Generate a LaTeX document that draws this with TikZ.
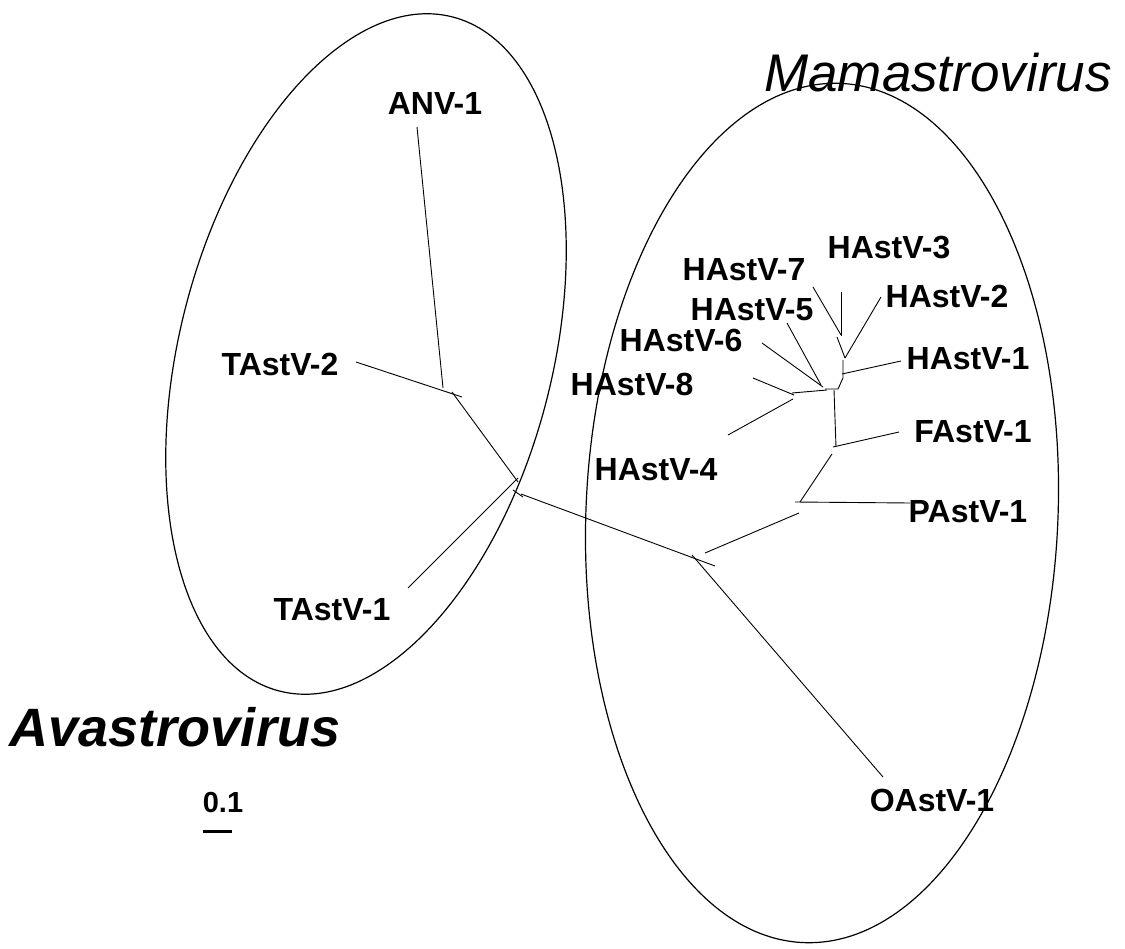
\documentclass[tikz,border=0pt]{standalone}
\usepackage{fontspec}
\setmainfont{Liberation Sans}
\begin{document}
\begin{tikzpicture}[x=1pt,y=-1pt,
  br/.style={line width=0.9pt, black},
  grp/.style={line width=1.2pt, black},
  tip/.style={font=\fontsize{32}{36}\selectfont\bfseries, inner sep=0pt, anchor=center},
  clade/.style={inner sep=0pt, anchor=center}]
\useasboundingbox (0,0) rectangle (1125,949);
% group ellipses
\draw[grp, rotate around={-14.4:(366,354)}] (366,354) ellipse [x radius=186.4pt, y radius=348pt];
\draw[grp, rotate around={-2.5:(822,513)}] (822,513) ellipse [x radius=236pt, y radius=430pt];
% labels
\node[clade, font=\fontsize{54}{60}\selectfont\bfseries\itshape] (ava) at (175,727) {Avastrovirus};
\node[clade, font=\fontsize{53}{60}\selectfont\itshape] (mama) at (938,73) {Mamastrovirus};
\node[tip] (anv1) at (435,103) {ANV-1};
\node[tip] (tast2) at (280,364) {TAstV-2};
\node[tip] (tast1) at (332,610) {TAstV-1};
\node[tip] (hast3) at (889,248) {HAstV-3};
\node[tip] (hast7) at (744,270) {HAstV-7};
\node[tip] (hast2) at (947,296) {HAstV-2};
\node[tip] (hast5) at (752,310) {HAstV-5};
\node[tip] (hast6) at (681,340) {HAstV-6};
\node[tip] (hast1) at (968,359) {HAstV-1};
\node[tip] (hast8) at (632,384) {HAstV-8};
\node[tip] (fast1) at (973,432) {FAstV-1};
\node[tip] (hast4) at (656,470) {HAstV-4};
\node[tip] (past1) at (968,512) {PAstV-1};
\node[tip] (oast1) at (932,800) {OAstV-1};
\node[clade, font=\fontsize{29}{34}\selectfont\bfseries] (scale) at (223,803) {0.1};
% branch end points
\coordinate (eANV) at (417,127);   \coordinate (nANV) at (443,388);
\coordinate (eT2) at (356,362);    \coordinate (nT2) at (462,397);
\coordinate (nA1) at (452,392);    \coordinate (nA2) at (518,482);
\coordinate (eT1) at (408,588);    \coordinate (nT1) at (518,478);
\coordinate (k1) at (513,490);     \coordinate (k2) at (523,497);
\coordinate (r1) at (521,494);     \coordinate (r2) at (715,566);
\coordinate (nO) at (692,555);     \coordinate (eO) at (883,777);
\coordinate (m1) at (705,553);     \coordinate (m2) at (799,513);
\coordinate (nP) at (795,502);     \coordinate (eP) at (910,503);
\coordinate (p1) at (800,502);     \coordinate (p2) at (832,454);
\coordinate (nF) at (833,447);     \coordinate (eF) at (899,432);
\coordinate (v1) at (834,390);     \coordinate (v2) at (836,447);
\coordinate (eH4) at (728,435);    \coordinate (nH4) at (793,399);
\coordinate (eH8) at (753,378);    \coordinate (nH8) at (794,395);
\coordinate (h1) at (792,393);     \coordinate (h2) at (827,390);
\coordinate (eH6) at (762,343);    \coordinate (nH6) at (823,387);
\coordinate (eH5) at (787,323);    \coordinate (nH5) at (821,385);
\coordinate (q1) at (825,389);     \coordinate (q2) at (838,389);
\coordinate (q3) at (843,378);     \coordinate (q4) at (843,360);
\coordinate (nH1) at (842,374);    \coordinate (eH1) at (901,361);
\coordinate (nH2) at (845,358);    \coordinate (eH2) at (881,297);
\coordinate (eH3) at (841,292);    \coordinate (nH3) at (841,336);
\coordinate (eH7) at (813,287);    \coordinate (nH7) at (841,335);
\coordinate (s1) at (837,337);     \coordinate (s2) at (845,358);
\coordinate (sb1) at (203,831);    \coordinate (sb2) at (232,831);
% branches
\draw[br] (eANV) -- (nANV);
\draw[br] (eT2) -- (nT2);
\draw[br] (nA1) -- (nA2);
\draw[br] (eT1) -- (nT1);
\draw[br] (k1) -- (k2);
\draw[br] (r1) -- (r2);
\draw[br] (nO) -- (eO);
\draw[br] (m1) -- (m2);
\draw[br] (nP) -- (eP);
\draw[br] (p1) -- (p2);
\draw[br] (nF) -- (eF);
\draw[br] (v1) -- (v2);
\draw[br] (eH4) -- (nH4);
\draw[br] (eH8) -- (nH8);
\draw[br] (h1) -- (h2);
\draw[br] (eH6) -- (nH6);
\draw[br] (eH5) -- (nH5);
\draw[br] (q1) -- (q2) -- (q3) -- (q4);
\draw[br] (nH1) -- (eH1);
\draw[br] (nH2) -- (eH2);
\draw[br] (eH3) -- (nH3);
\draw[br] (eH7) -- (nH7);
\draw[br] (s1) -- (s2);
% scale bar
\draw[line width=3pt] (sb1) -- (sb2);
\end{tikzpicture}
\end{document}
